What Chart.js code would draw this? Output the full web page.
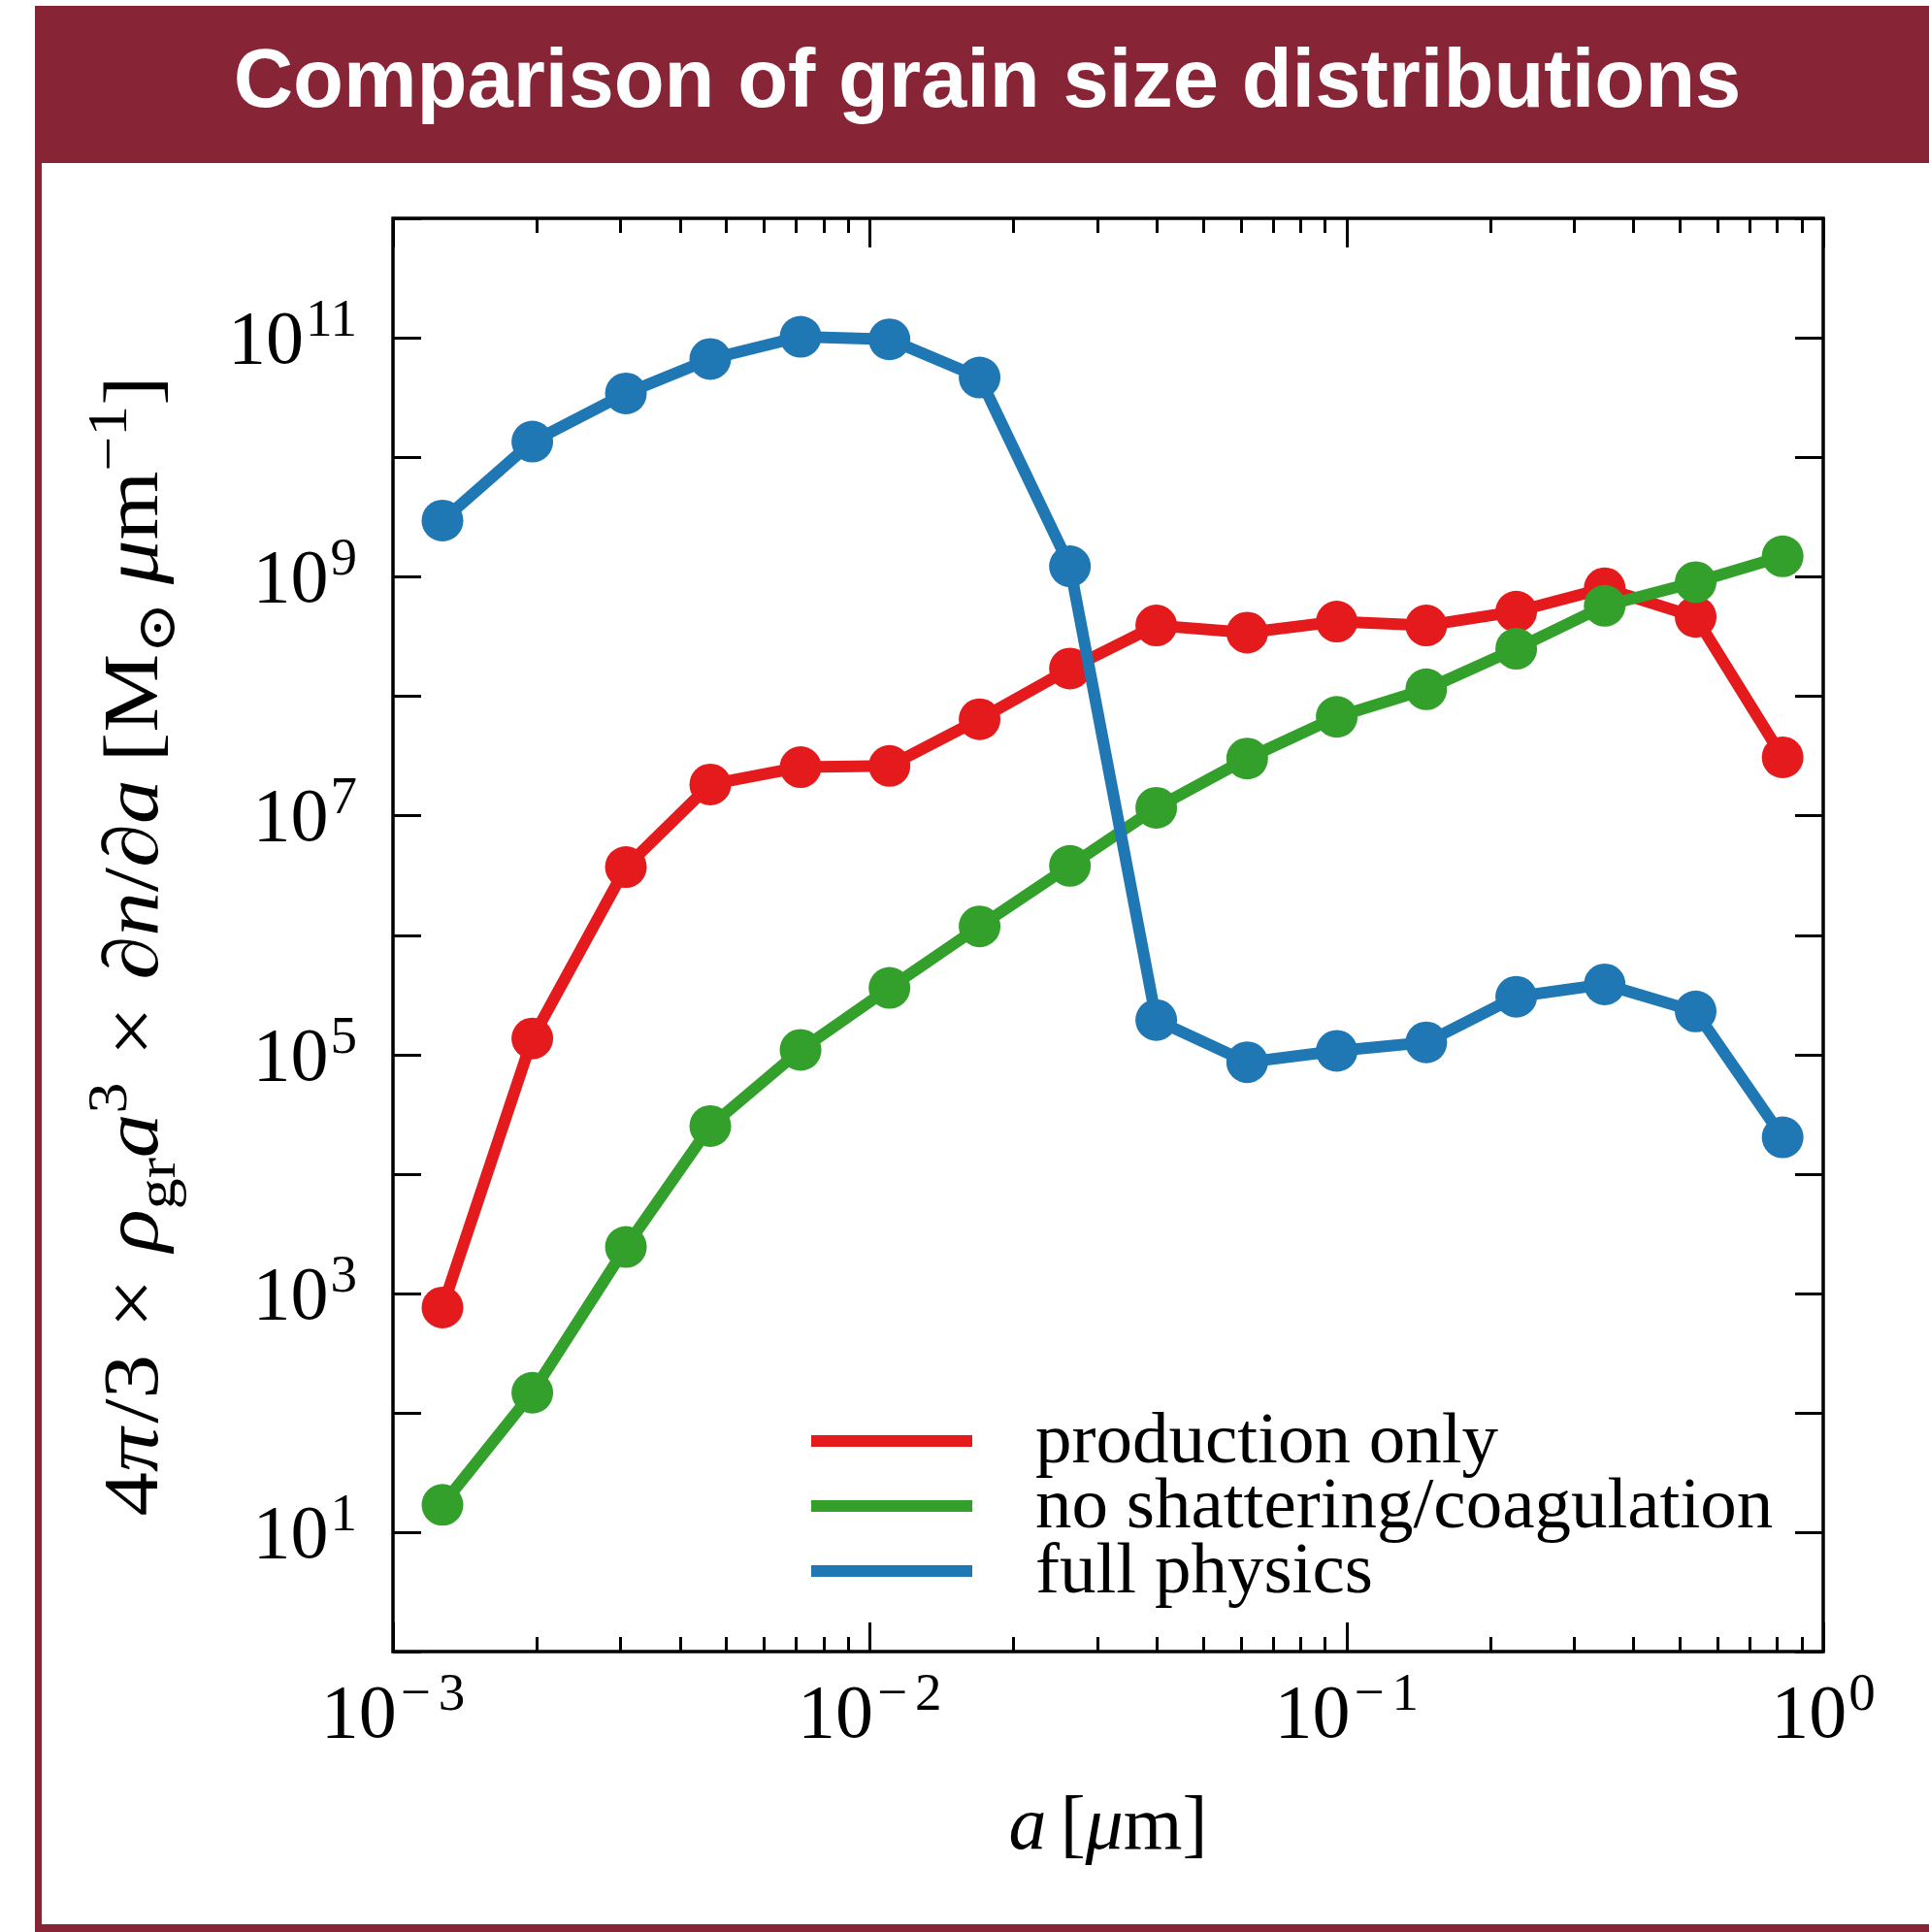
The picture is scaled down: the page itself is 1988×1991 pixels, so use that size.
<!DOCTYPE html>
<html>
<head>
<meta charset="utf-8">
<script src="https://cdn.jsdelivr.net/npm/chart.js@4/dist/chart.umd.min.js"></script>
<style>
  html, body { margin: 0; padding: 0; background: #fff; width: 1988px; height: 1991px; overflow: hidden; }
  #frame { position: absolute; left: 36px; top: 6px; width: 2100px; height: 1985px; box-sizing: border-box;
           border-left: 7px solid #872436; border-bottom: 8px solid #872436; }
  #banner { position: absolute; left: 36px; top: 6px; width: 1952px; height: 162px; background: #872436; }
  #title { position: absolute; left: 0; top: 33px; width: 2035px; text-align: center; color: #fff;
           font: bold 85px "Liberation Sans", Arial, sans-serif; line-height: 95px; white-space: nowrap; }
  canvas { position: absolute; left: 0; top: 0; }
</style>
</head>
<body>
<div id="frame"></div>
<div id="banner"></div>
<div id="title">Comparison of grain size distributions</div>
<canvas id="chart" width="1988" height="1991"></canvas>
<script>
// Grain radius bins [micron]
const grainSize = [1.27e-3, 1.96e-3, 3.08e-3, 4.63e-3, 7.16e-3, 1.10e-2, 1.70e-2, 2.63e-2,
                   3.99e-2, 6.19e-2, 9.54e-2, 0.147, 0.227, 0.348, 0.540, 0.822];

// 4pi/3 rho_gr a^3 dn/da [Msun / micron] per model
const productionOnly = [760, 1.36e5, 3.7e6, 1.82e7, 2.54e7, 2.6e7, 6.4e7, 1.70e8,
                        3.9e8, 3.4e8, 4.2e8, 3.9e8, 5.1e8, 8.0e8, 4.6e8, 3.07e7];
const noShatterCoag  = [16.9, 147, 2440, 2.51e4, 1.09e5, 3.6e5, 1.18e6, 3.79e6,
                        1.16e7, 3.0e7, 6.7e7, 1.14e8, 2.49e8, 5.7e8, 9.0e8, 1.48e9];
const fullPhysics    = [2.95e9, 1.35e10, 3.42e10, 6.65e10, 1.02e11, 9.7e10, 4.65e10, 1.22e9,
                        1.94e5, 8.6e4, 1.07e5, 1.26e5, 3.04e5, 3.86e5, 2.29e5, 2.02e4];

const seriesLabels = ['production only', 'no shattering/coagulation', 'full physics'];
const seriesColors = ['#e41a1c', '#33a02c', '#1f77b4'];

// Axis ticks (powers of ten)
const xTickExponents = [-3, -2, -1, 0];
const yTickExponents = [0, 1, 2, 3, 4, 5, 6, 7, 8, 9, 10, 11, 12];
const yLabelExponents = [1, 3, 5, 7, 9, 11];

const SERIF = '"Liberation Serif", "DejaVu Serif", serif';
const font = (size, italic) => (italic ? 'italic ' : '') + size + 'px ' + SERIF;
const MAIN = 78, SUP = 55;

function points(values) {
  return values.map((v, i) => ({ x: grainSize[i], y: v }));
}

// "10^n" label; align 'center' or 'right'
function drawPower(ctx, exp, x, y, align) {
  const base = '10';
  const digits = String(Math.abs(exp));
  ctx.font = font(MAIN); const wb = ctx.measureText(base).width;
  ctx.font = font(SUP);
  const wm = exp < 0 ? ctx.measureText('\u2212').width + 8 : 0;
  const wd = ctx.measureText(digits).width;
  const gap = exp < 0 ? 4 : 2;
  const total = wb + gap + wm + wd;
  const x0 = align === 'center' ? x - total / 2 : x - total;
  ctx.textAlign = 'left';
  ctx.textBaseline = 'alphabetic';
  ctx.font = font(MAIN); ctx.fillText(base, x0, y);
  ctx.font = font(SUP);
  if (exp < 0) ctx.fillText('\u2212', x0 + wb + gap, y - 28);
  ctx.fillText(digits, x0 + wb + gap + wm, y - 28);
}

// Draw a sequence of text runs (mixed italic / sub / superscript), centred on (0,0)
function drawRuns(ctx, runs, size, targetLen) {
  const items = runs.map(r => {
    const s = r.k === 'sup' || r.k === 'sub' ? size * 0.7 : size;
    const f = font(s, r.it);
    ctx.font = f;
    const w = r.t ? ctx.measureText(r.t).width : 0;
    const dy = r.k === 'sup' ? -size * 0.4 : r.k === 'sub' ? size * 0.22 : 0;
    return { t: r.t, f, w, dy, gap: (r.g || 0) * size };
  });
  const total = items.reduce((a, it) => a + it.w + it.gap, 0);
  const sx = targetLen ? targetLen / total : 1;
  ctx.save();
  ctx.scale(sx, 1);
  let x = -total / 2;
  ctx.textAlign = 'left';
  ctx.textBaseline = 'alphabetic';
  for (const it of items) {
    x += it.gap;
    if (it.t) { ctx.font = it.f; ctx.fillText(it.t, x, it.dy); }
    x += it.w;
  }
  ctx.restore();
}

const yTitleRuns = [
  { t: '4' }, { t: '\u03c0', it: true }, { t: '/3', g: 0.05 },
  { t: '\u00d7', g: 0.3 },
  { t: '\u03c1', it: true, g: 0.3 }, { t: 'gr', k: 'sub' }, { t: 'a', it: true }, { t: '3', k: 'sup' },
  { t: '\u00d7', g: 0.3 },
  { t: '\u2202', g: 0.3 }, { t: 'n', it: true }, { t: '/' }, { t: '\u2202' }, { t: 'a', it: true },
  { t: '[M', g: 0.2 }, { t: '\u2299', k: 'sub' },
  { t: '\u03bc', it: true, g: 0.2 }, { t: 'm' }, { t: '\u22121', k: 'sup' }, { t: ']' }
];
const xTitleRuns = [
  { t: 'a', it: true }, { t: '[', g: 0.18 }, { t: '\u03bc', it: true }, { t: 'm' }, { t: ']' }
];

const axesPlugin = {
  id: 'axesFrame',
  afterDraw(chart) {
    const ctx = chart.ctx;
    const xs = chart.scales.x, ys = chart.scales.y;
    const { left, right, top, bottom } = chart.chartArea;
    ctx.save();
    ctx.strokeStyle = '#000';
    ctx.fillStyle = '#000';
    ctx.lineCap = 'butt';

    // x ticks (major + minor), bottom and top, pointing inward
    ctx.lineWidth = 3;
    for (let e = xTickExponents[0]; e <= xTickExponents[xTickExponents.length - 1]; e++) {
      for (let k = 1; k <= 9; k++) {
        const v = k * Math.pow(10, e);
        if (v > xs.max * 1.0001) break;
        const px = Math.round(xs.getPixelForValue(v)) + 0.5;
        const len = k === 1 ? 30 : 15;
        ctx.beginPath();
        ctx.moveTo(px, bottom); ctx.lineTo(px, bottom - len);
        ctx.moveTo(px, top); ctx.lineTo(px, top + len);
        ctx.stroke();
      }
    }
    // y ticks, left and right
    for (const e of yTickExponents) {
      const py = Math.round(ys.getPixelForValue(Math.pow(10, e))) + 0.5;
      ctx.beginPath();
      ctx.moveTo(left, py); ctx.lineTo(left + 29, py);
      ctx.moveTo(right, py); ctx.lineTo(right - 29, py);
      ctx.stroke();
    }
    // frame
    ctx.lineWidth = 3.5;
    ctx.strokeRect(left, top, right - left, bottom - top);

    // tick labels
    for (const e of xTickExponents) {
      drawPower(ctx, e, xs.getPixelForValue(Math.pow(10, e)), bottom + 88, 'center');
    }
    for (const e of yLabelExponents) {
      drawPower(ctx, e, left - 37, ys.getPixelForValue(Math.pow(10, e)) + 26, 'right');
    }

    // axis titles
    ctx.save();
    ctx.translate((left + right) / 2, 1905);
    drawRuns(ctx, xTitleRuns, MAIN, 0);
    ctx.restore();

    ctx.save();
    ctx.translate(162, 975);
    ctx.rotate(-Math.PI / 2);
    drawRuns(ctx, yTitleRuns, 80, 1175);
    ctx.restore();

    // legend
    const lx0 = 836, lx1 = 1002, tx = 1067, rowY = [1485, 1552, 1619];
    chart.data.datasets.forEach((ds, i) => {
      ctx.strokeStyle = ds.borderColor;
      ctx.lineWidth = 12;
      ctx.beginPath();
      ctx.moveTo(lx0, rowY[i]); ctx.lineTo(lx1, rowY[i]);
      ctx.stroke();
      ctx.fillStyle = '#000';
      ctx.font = font(75);
      ctx.textAlign = 'left';
      ctx.textBaseline = 'alphabetic';
      ctx.fillText(ds.label, tx, rowY[i] + 22);
    });
    ctx.restore();
  }
};

const seriesValues = [productionOnly, noShatterCoag, fullPhysics];
const datasets = seriesValues.map((vals, i) => ({
  label: seriesLabels[i],
  data: points(vals),
  borderColor: seriesColors[i],
  backgroundColor: seriesColors[i],
  pointBackgroundColor: seriesColors[i],
  borderWidth: 12,
  pointRadius: 21.5,
  pointHoverRadius: 21.5,
  pointBorderWidth: 0,
  tension: 0,
  fill: false,
  order: 3 - i
}));

new Chart(document.getElementById('chart'), {
  type: 'line',
  data: { datasets },
  options: {
    responsive: false,
    animation: false,
    devicePixelRatio: 1,
    events: [],
    layout: { padding: { left: 405, right: 109, top: 225, bottom: 289 } },
    plugins: { legend: { display: false }, tooltip: { enabled: false }, title: { display: false } },
    scales: {
      x: {
        type: 'logarithmic', min: 1e-3, max: 1,
        grid: { display: false }, border: { display: false },
        ticks: { display: false },
        afterFit(s) { s.height = 0; }
      },
      y: {
        type: 'logarithmic', min: 1, max: 1e12,
        grid: { display: false }, border: { display: false },
        ticks: { display: false },
        afterFit(s) { s.width = 0; }
      }
    }
  },
  plugins: [axesPlugin]
});
</script>
</body>
</html>
